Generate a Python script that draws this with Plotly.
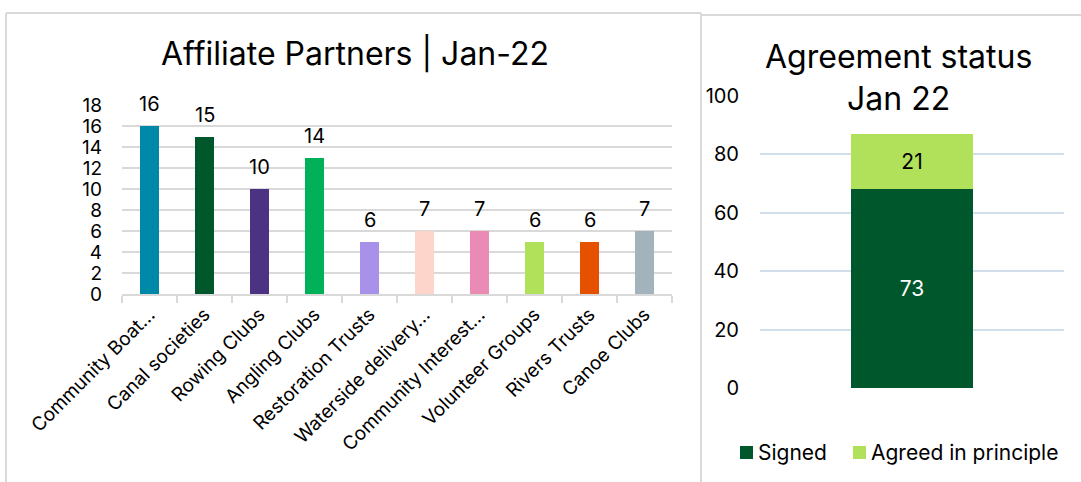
import plotly.graph_objects as go

# ---- data ----
categories = ["Community Boat…", "Canal societies", "Rowing Clubs", "Angling Clubs",
              "Restoration Trusts", "Waterside delivery…", "Community Interest…",
              "Volunteer Groups", "Rivers Trusts", "Canoe Clubs"]
bar_values = [16, 15, 10, 13, 5, 6, 6, 5, 5, 6]
bar_labels = [16, 15, 10, 14, 6, 7, 7, 6, 6, 7]
bar_colors = ["#0088a8", "#00572b", "#4b3283", "#00b159", "#a891e8",
              "#fdd5cb", "#e98bb5", "#b1e05a", "#e65100", "#a2b3bb"]

status_category = ["Jan 22"]
signed_values = [68]
signed_labels = [73]
agreed_values = [19]
agreed_labels = [21]
legend_names = ["Signed", "Agreed in principle"]
legend_colors = ["#00572b", "#b1e05a"]

FONT = "Inter"
W, H = 1081, 482

fig = go.Figure()

fig.add_trace(go.Bar(
    x=categories, y=bar_values, marker=dict(color=bar_colors, line=dict(width=0)),
    width=0.33, xaxis="x", yaxis="y", showlegend=False, hoverinfo="skip"))

for c, v, lab in zip(categories, bar_values, bar_labels):
    fig.add_annotation(x=c, y=v, xref="x", yref="y", text=str(lab), showarrow=False,
                       xanchor="center", yanchor="bottom", yshift=8,
                       font=dict(size=20, color="#000000", family=FONT))

fig.add_trace(go.Bar(
    x=status_category, y=signed_values, name=legend_names[0], marker=dict(color=legend_colors[0], line=dict(width=0)),
    text=[str(v) for v in signed_labels], textposition="inside", insidetextanchor="middle",
    textfont=dict(size=21, color="#ffffff", family=FONT), width=0.4,
    xaxis="x2", yaxis="y2", hoverinfo="skip", showlegend=False))
fig.add_trace(go.Bar(
    x=status_category, y=agreed_values, name=legend_names[1], marker=dict(color=legend_colors[1], line=dict(width=0)),
    text=[str(v) for v in agreed_labels], textposition="inside", insidetextanchor="middle",
    textfont=dict(size=21, color="#000000", family=FONT), width=0.4,
    xaxis="x2", yaxis="y2", hoverinfo="skip", showlegend=False))

def px_x(p):
    return p / W

def px_y(p):
    return 1 - p / H

fig.update_layout(
    width=W, height=H, margin=dict(l=0, r=0, t=0, b=0, autoexpand=False),
    paper_bgcolor="#ffffff", plot_bgcolor="#ffffff",
    barmode="stack", font=dict(family=FONT, color="#000000"),
    xaxis=dict(domain=[px_x(122), px_x(672)], anchor="y", tickangle=-45, automargin=False,
               tickfont=dict(size=19, family=FONT, color="#000000"),
               showline=True, linecolor="#d9d9d9", linewidth=2,
               ticks="outside", tickson="boundaries", ticklen=7, tickcolor="#d9d9d9", tickwidth=1.5,
               showgrid=False, fixedrange=True),
    yaxis=dict(domain=[px_y(294), px_y(105)], anchor="x", range=[0, 18], dtick=2, automargin=False,
               tickfont=dict(size=19, family=FONT, color="#000000"),
               showgrid=True, gridcolor="#d9d9d9", gridwidth=2, zeroline=False,
               ticks="", ticklabelstandoff=19, fixedrange=True),
    xaxis2=dict(domain=[px_x(760), px_x(1064)], anchor="y2", showticklabels=False, automargin=False,
                showgrid=False, showline=False, zeroline=False, fixedrange=True),
    yaxis2=dict(domain=[px_y(388), px_y(96)], anchor="x2", range=[0, 100], dtick=20, automargin=False,
                tickfont=dict(size=20, family=FONT, color="#000000"),
                showgrid=True, gridcolor="#d3deec", gridwidth=1.5, zeroline=False,
                ticks="", ticklabelstandoff=20, fixedrange=True),
    showlegend=False,
)

# titles
fig.add_annotation(x=px_x(355), y=px_y(53), xref="paper", yref="paper", text="Affiliate Partners | Jan-22",
                   showarrow=False, font=dict(size=32, family=FONT, color="#000000"),
                   xanchor="center", yanchor="middle")
fig.add_annotation(x=px_x(898), y=px_y(77), xref="paper", yref="paper", text="Agreement status<br>Jan 22",
                   showarrow=False, font=dict(size=32, family=FONT, color="#000000"),
                   xanchor="center", yanchor="middle")

# manual legend
legend_sq_x = [740, 853]
for name, col, sx in zip(legend_names, legend_colors, legend_sq_x):
    fig.add_shape(type="rect", xref="paper", yref="paper", x0=px_x(sx), x1=px_x(sx + 13),
                  y0=px_y(459), y1=px_y(446), fillcolor=col, line=dict(width=0))
    fig.add_annotation(x=px_x(sx + 16), y=px_y(452), xref="paper", yref="paper", text=name,
                       showarrow=False, xanchor="left", yanchor="middle",
                       font=dict(size=21, family=FONT, color="#000000"))

# panel borders
border = dict(color="#d9d9d9", width=2)
fig.add_shape(type="line", xref="paper", yref="paper", x0=px_x(6), x1=px_x(701), y0=px_y(13), y1=px_y(13), line=border)
fig.add_shape(type="line", xref="paper", yref="paper", x0=px_x(6), x1=px_x(6), y0=px_y(13), y1=px_y(490), line=border)
fig.add_shape(type="line", xref="paper", yref="paper", x0=px_x(701), x1=px_x(701), y0=px_y(13), y1=px_y(490), line=border)
fig.add_shape(type="line", xref="paper", yref="paper", x0=px_x(701), x1=px_x(1085), y0=px_y(15), y1=px_y(15), line=border)

fig.write_html("out.html", config={"displayModeBar": False},
               post_script="document.body.style.margin='0px';document.body.style.overflow='hidden';")
